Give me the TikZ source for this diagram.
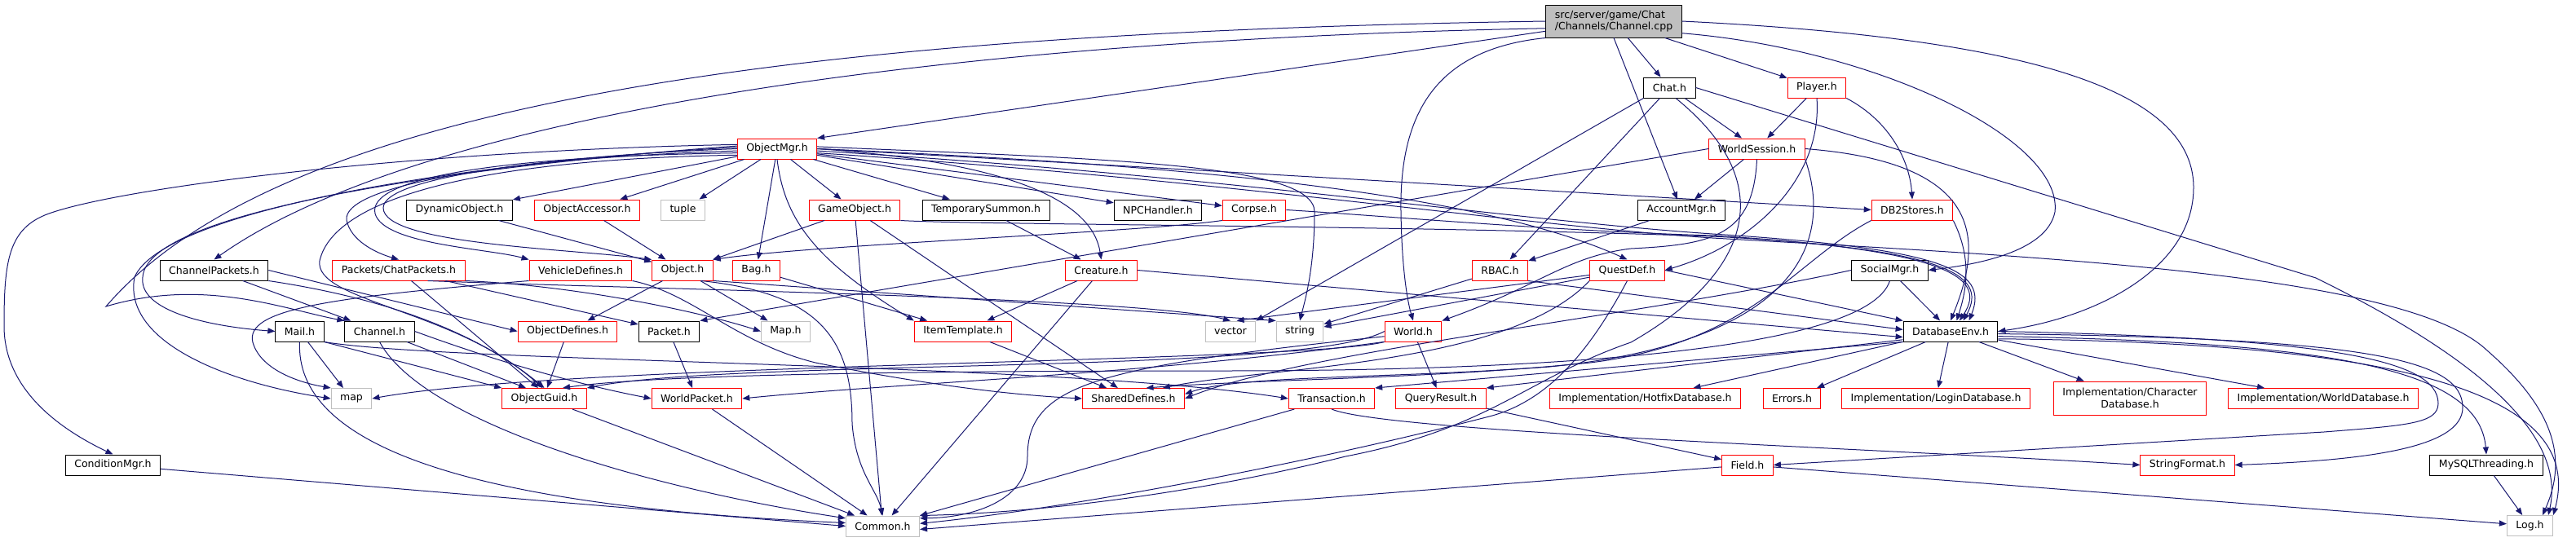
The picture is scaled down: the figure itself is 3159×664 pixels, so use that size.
\documentclass[tikz,border=0pt]{standalone}
\usepackage{fontspec}
\setmainfont{DejaVu Sans}
\usepackage{xcolor}
\usetikzlibrary{arrows.meta}

\definecolor{depblue}{HTML}{191970}
\definecolor{sysgrey}{HTML}{BFBFBF}

\begin{document}
\begin{tikzpicture}[x=1pt,y=-1pt,
  hdr/.style={draw=black,line width=1pt,fill=white,minimum height=25pt,
    inner xsep=11pt,inner ysep=2pt,font=\fontsize{12.5}{14.5}\selectfont},
  trunc/.style={hdr,draw=red},
  syshdr/.style={hdr,draw=sysgrey},
  srcfile/.style={hdr,fill=sysgrey,align=left,minimum height=40pt},
  dep/.style={-{Triangle[length=9pt,width=7pt]},line width=1pt,depblue}]
  \fill[white] (0,0) rectangle (3159,664);
  \useasboundingbox (0,0) rectangle (3159,664);

  % Source file
  \node[srcfile] (cpp) at (1979,26) {src/server/game/Chat\\/Channels/Channel.cpp};

  % Rank 1
  \node[hdr]   (chat)   at (2047.5,107.5) {Chat.h};
  \node[trunc] (player) at (2228,107.5)   {Player.h};

  % Rank 2
  \node[trunc] (omgr)  at (953,182.5)    {ObjectMgr.h};
  \node[trunc] (wsess) at (2154.5,182.5) {WorldSession.h};

  % Rank 3
  \node[hdr]    (dynobj)  at (563.5,257.5) {DynamicObject.h};
  \node[trunc]  (objacc)  at (720,257.5)   {ObjectAccessor.h};
  \node[syshdr] (tuple)   at (837.5,257.5) {tuple};
  \node[trunc]  (gameobj) at (1048,257.5)  {GameObject.h};
  \node[hdr]    (tempsum) at (1209,257.5)  {TemporarySummon.h};
  \node[hdr]    (npch)    at (1420,257.5)  {NPCHandler.h};
  \node[trunc]  (corpse)  at (1538,257.5)  {Corpse.h};
  \node[hdr]    (accmgr)  at (2062,257.5)  {AccountMgr.h};
  \node[trunc]  (db2)     at (2345,257.5)  {DB2Stores.h};

  % Rank 4
  \node[hdr]   (chpk)     at (262.5,331.5)  {ChannelPackets.h};
  \node[trunc] (chatpk)   at (489,331.5)    {Packets/ChatPackets.h};
  \node[trunc] (vehdef)   at (712,331.5)    {VehicleDefines.h};
  \node[trunc] (object)   at (837,331.5)    {Object.h};
  \node[trunc] (bag)      at (927.5,331.5)  {Bag.h};
  \node[trunc] (creature) at (1350.5,331.5) {Creature.h};
  \node[trunc] (rbac)     at (1839.5,331.5) {RBAC.h};
  \node[trunc] (quest)    at (1995.5,331.5) {QuestDef.h};
  \node[hdr]   (social)   at (2317.5,331.5) {SocialMgr.h};

  % Rank 5
  \node[hdr]    (mail)    at (367.5,406.5) {Mail.h};
  \node[hdr]    (channel) at (465.5,406.5) {Channel.h};
  \node[trunc]  (objdef)  at (696,406.5)   {ObjectDefines.h};
  \node[hdr]    (packet)  at (820.5,406.5) {Packet.h};
  \node[syshdr] (maph)    at (963.5,406.5) {Map.h};
  \node[trunc]  (itemtpl) at (1181,406.5)  {ItemTemplate.h};
  \node[syshdr] (vector)  at (1509,406.5)  {vector};
  \node[syshdr] (string)  at (1594,406.5)  {string};
  \node[trunc]  (world)   at (1733,406.5)  {World.h};
  \node[hdr]    (dbenv)   at (2392,406.5)  {DatabaseEnv.h};

  % Rank 6
  \node[syshdr] (map)     at (431,489)    {map};
  \node[trunc]  (guid)    at (667.5,489)  {ObjectGuid.h};
  \node[trunc]  (wpacket) at (854.5,489)  {WorldPacket.h};
  \node[trunc]  (shared)  at (1390,489)   {SharedDefines.h};
  \node[trunc]  (trans)   at (1633,489)   {Transaction.h};
  \node[trunc]  (qres)    at (1767,489)   {QueryResult.h};
  \node[trunc]  (hotfix)  at (2017.5,489) {Implementation/HotfixDatabase.h};
  \node[trunc]  (errors)  at (2197.5,489) {Errors.h};
  \node[trunc]  (login)   at (2374,489)   {Implementation/LoginDatabase.h};
  \node[trunc,align=center,minimum height=41pt] (chardb) at (2612,488.5) {Implementation/Character\\Database.h};
  \node[trunc]  (worlddb) at (2849,489)   {Implementation/WorldDatabase.h};

  % Rank 7
  \node[hdr]   (condmgr) at (138.5,570.5)  {ConditionMgr.h};
  \node[trunc] (field)   at (2143,570.5)   {Field.h};
  \node[trunc] (strfmt)  at (2682.5,570.5) {StringFormat.h};
  \node[hdr]   (mysqlt)  at (3049,570.5)   {MySQLThreading.h};

  % Rank 8
  \node[syshdr] (common) at (1082.5,645.5) {Common.h};
  \node[syshdr] (log)    at (3102.5,645)   {Log.h};

  % Includes of Channel.cpp
  \draw[dep] (cpp) -- (chat);
  \draw[dep] (cpp) -- (player);
  \draw[dep] (cpp.south) -- (accmgr);
  \draw[dep] (cpp) -- (omgr.north east);
  \draw[dep] (cpp.186) .. controls (1100,50) and (500,150) .. (chpk.north);
  \draw[dep] (cpp.west) .. controls (1000,40) and (350,120) .. (130,376)
    .. controls (250,340) and (350,380) .. (channel.north west);
  \draw[dep] (cpp.south west) .. controls (1760,60) and (1716,140) .. (1718,260)
    .. controls (1719,330) and (1726,370) .. (world.north);
  \draw[dep] (cpp.east) .. controls (2450,45) and (2690,100) .. (2690,230)
    .. controls (2690,330) and (2570,390) .. (dbenv.east);
  \draw[dep] (cpp.-10) .. controls (2300,60) and (2530,170) .. (2520,260)
    .. controls (2510,310) and (2420,325) .. (social.east);

  % Chat.h
  \draw[dep] (chat) -- (wsess);
  \draw[dep] (chat) -- (rbac);
  \draw[dep] (chat.south west) -- (vector.north east);
  \draw[dep] (chat.-60) .. controls (2190,230) and (2140,340) .. (2000,420)
    .. controls (1870,465) and (1830,525) .. (1650,560)
    .. controls (1450,610) and (1250,630) .. (common.north east);
  \draw[dep] (chat.east) -- (2840,341) .. controls (3000,420) and (3150,520) .. (log.30);

  % Player.h
  \draw[dep] (player) -- (wsess);
  \draw[dep] (player.south east) .. controls (2320,150) and (2342,200) .. (db2.north);
  \draw[dep] (player.south) .. controls (2235,220) and (2150,300) .. (quest.east);

  % WorldSession.h
  \draw[dep] (wsess) -- (accmgr);
  \draw[dep] (wsess.west) -- (packet.north east);
  \draw[dep] (wsess.south) .. controls (2150,290) and (2100,300) .. (2000,305)
    .. controls (1920,315) and (1890,350) .. (world.north east);
  \draw[dep] (wsess.east) .. controls (2440,200) and (2430,300) .. (dbenv.north);
  \draw[dep] (wsess.south east) .. controls (2250,300) and (2200,420) .. (1900,450)
    .. controls (1700,465) and (1520,460) .. (shared.5);

  % ObjectMgr.h
  \draw[dep] (omgr) -- (dynobj);
  \draw[dep] (omgr) -- (objacc);
  \draw[dep] (omgr) -- (tuple);
  \draw[dep] (omgr) -- (gameobj);
  \draw[dep] (omgr) -- (tempsum);
  \draw[dep] (omgr) -- (npch);
  \draw[dep] (omgr) -- (corpse);
  \draw[dep] (omgr) -- (bag);
  \draw[dep] (omgr.east) .. controls (1250,200) and (1340,250) .. (creature.north);
  \draw[dep] (omgr.south) .. controls (962,270) and (1000,320) .. (itemtpl.north west);
  \draw[dep] (omgr.west) .. controls (700,190) and (470,215) .. (470,255)
    .. controls (470,300) and (700,305) .. (object.north west);
  \draw[dep] (omgr.183) .. controls (600,195) and (420,230) .. (425,270)
    .. controls (430,295) and (460,310) .. (chatpk.north);
  \draw[dep] (omgr.186) .. controls (600,192) and (450,220) .. (460,262)
    .. controls (470,300) and (600,305) .. (vehdef.north west);
  \draw[dep] (omgr.189) .. controls (600,195) and (410,240) .. (392,320)
    .. controls (385,370) and (560,380) .. (guid.100);
  \draw[dep] (omgr.178) .. controls (550,200) and (200,260) .. (165,340)
    .. controls (150,420) and (280,470) .. (map.west);
  \draw[dep] (omgr.176) .. controls (550,205) and (180,260) .. (175,340)
    .. controls (170,380) and (250,400) .. (mail.west);
  \draw[dep] (omgr.174) .. controls (500,185) and (150,230) .. (60,262)
    .. controls (10,280) and (5,320) .. (5,400)
    .. controls (5,470) and (60,520) .. (condmgr.north);
  \draw[dep] (omgr.east) .. controls (1400,200) and (1800,230) .. (quest.north);
  \draw[dep] (omgr.3) .. controls (1350,195) and (1612,200) .. (1612,260)
    .. controls (1612,330) and (1600,370) .. (string.north);
  \draw[dep] (omgr.0) .. controls (1500,210) and (2000,240) .. (db2.west);
  \draw[dep] (omgr.-3) .. controls (1500,215) and (1850,270) .. (2100,287)
    .. controls (2380,305) and (2440,330) .. (dbenv.30);
  \draw[dep] (omgr.-6) .. controls (1500,220) and (1850,275) .. (2100,292)
    .. controls (2500,315) and (2950,335) .. (3050,430)
    .. controls (3130,500) and (3150,560) .. (log.40);

  % GameObject.h, Corpse.h
  \draw[dep] (gameobj) -- (object);
  \draw[dep] (gameobj) -- (common);
  \draw[dep] (gameobj) -- (shared);
  \draw[dep] (gameobj.south east) .. controls (1200,276) and (1700,276) .. (2100,290)
    .. controls (2380,305) and (2440,335) .. (dbenv.40);
  \draw[dep] (corpse.south west) .. controls (1400,285) and (1000,300) .. (object.north east);
  \draw[dep] (corpse.east) .. controls (1700,265) and (1900,283) .. (2100,289)
    .. controls (2380,306) and (2440,338) .. (dbenv.50);

  % DynamicObject.h, ObjectAccessor.h, TemporarySummon.h
  \draw[dep] (dynobj) -- (object);
  \draw[dep] (objacc) -- (object);
  \draw[dep] (tempsum) -- (creature);

  % Object.h
  \draw[dep] (object) -- (objdef);
  \draw[dep] (object) -- (maph);
  \draw[dep] (object.south east) -- (string.north west);
  \draw[dep] (object.-30) .. controls (1010,360) and (1045,420) .. (1045,520)
    .. controls (1050,580) and (1075,600) .. (common.north);

  % Bag.h, Creature.h, ItemTemplate.h
  \draw[dep] (bag) -- (itemtpl);
  \draw[dep] (creature) -- (itemtpl);
  \draw[dep] (creature) -- (common);
  \draw[dep] (creature.east) -- (dbenv.187);
  \draw[dep] (itemtpl) -- (shared);

  % Packets
  \draw[dep] (chpk) -- (channel);
  \draw[dep] (chpk.east) -- (objdef.west);
  \draw[dep] (chpk.south east) .. controls (500,370) and (600,420) .. (guid.north);
  \draw[dep] (chatpk) -- (packet);
  \draw[dep] (chatpk) -- (guid.120);
  \draw[dep] (chatpk.south east) .. controls (700,350) and (850,380) .. (maph.west);
  \draw[dep] (chatpk.-20) .. controls (800,355) and (1400,365) .. (vector.north);
  \draw[dep] (vehdef.south west) .. controls (400,365) and (300,380) .. (310,420)
    .. controls (320,455) and (370,470) .. (map.north west);
  \draw[dep] (vehdef.south east) .. controls (850,360) and (900,420) .. (1000,445)
    .. controls (1150,475) and (1250,485) .. (shared.west);

  % Mail.h, Channel.h
  \draw[dep] (mail) -- (map);
  \draw[dep] (mail.south east) -- (guid.north west);
  \draw[dep] (mail.south) .. controls (362,540) and (550,620) .. (common.175);
  \draw[dep] (mail.south east) .. controls (550,445) and (1300,445) .. (trans.west);
  \draw[dep] (channel.south) .. controls (520,520) and (800,600) .. (common.168);
  \draw[dep] (channel) -- (guid.150);
  \draw[dep] (channel.east) .. controls (600,440) and (700,470) .. (wpacket.west);

  % Lower ranks
  \draw[dep] (objdef) -- (guid.75);
  \draw[dep] (packet) -- (wpacket);
  \draw[dep] (wpacket) -- (common);
  \draw[dep] (guid) -- (common);
  \draw[dep] (condmgr) -- (common.west);

  % World.h
  \draw[dep] (world) -- (qres);
  \draw[dep] (world.south west) .. controls (1600,445) and (700,445) .. (map.east);
  \draw[dep] (world.west) .. controls (1600,460) and (900,440) .. (guid.north east);
  \draw[dep] (world.200) .. controls (1400,460) and (1100,470) .. (wpacket.east);
  \draw[dep] (world.190) .. controls (1350,450) and (1260,470) .. (1260,560)
    .. controls (1260,610) and (1200,635) .. (common.12);

  % SocialMgr.h, QuestDef.h, RBAC.h, AccountMgr.h, DB2Stores.h
  \draw[dep] (social) -- (dbenv);
  \draw[dep] (social.west) .. controls (2000,390) and (1600,430) .. (shared.east);
  \draw[dep] (social.south) .. controls (2290,430) and (1900,455) .. (1500,455)
    .. controls (1100,455) and (800,460) .. (guid.30);
  \draw[dep] (quest) -- (string);
  \draw[dep] (quest) -- (vector.60);
  \draw[dep] (quest.east) -- (dbenv.north west);
  \draw[dep] (quest.south) .. controls (1950,430) and (1900,490) .. (1830,510)
    .. controls (1600,570) and (1300,625) .. (common.4);
  \draw[dep] (quest.south west) .. controls (1850,450) and (1550,450) .. (shared.20);
  \draw[dep] (rbac) -- (string);
  \draw[dep] (rbac.south east) -- (dbenv.178);
  \draw[dep] (accmgr) -- (rbac);
  \draw[dep] (db2.south east) .. controls (2420,320) and (2410,360) .. (dbenv.60);
  \draw[dep] (db2.south west) .. controls (2200,320) and (2150,420) .. (1950,445)
    .. controls (1750,465) and (1550,465) .. (shared.40);

  % DatabaseEnv.h
  \draw[dep] (dbenv.south west) -- (trans.north east);
  \draw[dep] (dbenv.190) -- (qres.north east);
  \draw[dep] (dbenv) -- (hotfix);
  \draw[dep] (dbenv) -- (errors);
  \draw[dep] (dbenv) -- (login);
  \draw[dep] (dbenv) -- (chardb);
  \draw[dep] (dbenv) -- (worlddb);
  \draw[dep] (dbenv.east) .. controls (2850,415) and (2990,440) .. (2990,495)
    .. controls (2990,520) and (2950,522) .. (2850,530) -- (field.east);
  \draw[dep] (dbenv.-3) .. controls (2900,415) and (3020,440) .. (3020,500)
    .. controls (3020,550) and (2900,565) .. (strfmt.east);
  \draw[dep] (dbenv.-6) .. controls (2850,420) and (3040,450) .. (mysqlt.north);
  \draw[dep] (dbenv.-9) .. controls (2900,420) and (3175,470) .. (log.north east);

  % Bottom
  \draw[dep] (trans.south) .. controls (1700,530) and (2300,550) .. (strfmt.west);
  \draw[dep] (trans) -- (common);
  \draw[dep] (qres) -- (field);
  \draw[dep] (field) -- (common.-5);
  \draw[dep] (field) -- (log);
  \draw[dep] (mysqlt) -- (log);
\end{tikzpicture}
\end{document}
